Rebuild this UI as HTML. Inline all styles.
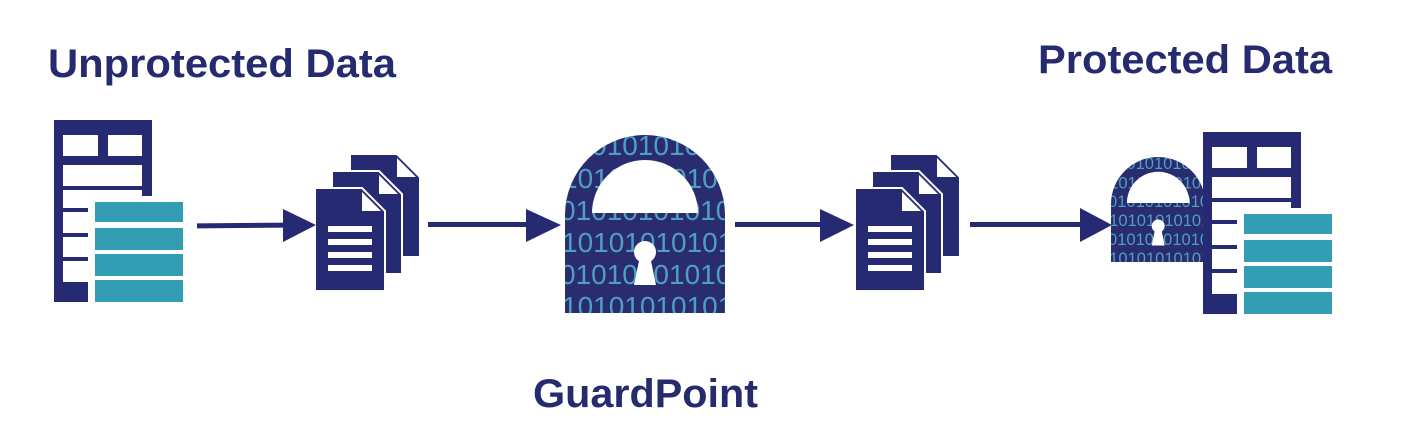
<!DOCTYPE html>
<html><head><meta charset="utf-8"><style>
html,body{margin:0;padding:0;background:#fff;}
svg{display:block;}
text.t{font-family:"Liberation Sans",sans-serif;font-weight:bold;fill:#262a6e;}
text.b{font-family:"Liberation Sans",sans-serif;fill:#4f9fc0;font-size:28px;}
</style></head><body>
<svg width="1419" height="438" viewBox="0 0 1419 438" xmlns="http://www.w3.org/2000/svg">
<defs>
  <g id="db">
    <rect x="54" y="120" width="98" height="182" fill="#252a72"/>
    <rect x="63" y="135" width="35" height="21" fill="#fff"/>
    <rect x="108" y="135" width="34" height="21" fill="#fff"/>
    <rect x="63" y="165" width="79" height="21" fill="#fff"/>
    <rect x="63" y="190" width="79" height="92" fill="#fff"/>
    <rect x="88" y="196" width="65" height="107" fill="#fff"/>
    <rect x="63" y="208" width="25" height="4" fill="#252a72"/>
    <rect x="63" y="233" width="25" height="4" fill="#252a72"/>
    <rect x="63" y="257" width="25" height="4" fill="#252a72"/>
    <rect x="95" y="202" width="88" height="20" fill="#339eb3"/>
    <rect x="95" y="228" width="88" height="22" fill="#339eb3"/>
    <rect x="95" y="254" width="88" height="22" fill="#339eb3"/>
    <rect x="95" y="280" width="88" height="22" fill="#339eb3"/>
  </g>
  <g id="page">
    <path d="M0,0 H47 L70,23 V103 H0 Z" fill="#252a72" stroke="#fff" stroke-width="2"/>
    <path d="M47,4 L47,23 L66,23 Z" fill="#fff"/>
  </g>
  <g id="docs">
    <use href="#page" x="350" y="154"/>
    <use href="#page" x="332" y="171"/>
    <use href="#page" x="315" y="188"/>
    <rect x="328" y="226" width="44" height="6" fill="#fff"/>
    <rect x="328" y="239" width="44" height="6" fill="#fff"/>
    <rect x="328" y="252" width="44" height="6" fill="#fff"/>
    <rect x="328" y="265" width="44" height="6" fill="#fff"/>
  </g>
  <clipPath id="lk"><path d="M565,215 A80,80 0 0 1 725,215 V313 H565 Z"/></clipPath>
  <g id="lock">
    <g clip-path="url(#lk)">
      <rect x="565" y="135" width="160" height="178" fill="#292c6f"/>
      <text class="b" x="560" y="155">0101010101010</text>
      <text class="b" x="562" y="188">1010101010101</text>
      <text class="b" x="560" y="220">0101010101010</text>
      <text class="b" x="562" y="252">1010101010101</text>
      <text class="b" x="560" y="284">0101010101010</text>
      <text class="b" x="562" y="316">1010101010101</text>
    </g>
    <path d="M592,213 A53,53 0 0 1 698,213 Z" fill="#fff"/>
    <circle cx="645" cy="252" r="11" fill="#fff"/>
    <path d="M640,256 L650,256 L656,285 L634,285 Z" fill="#fff"/>
  </g>
</defs>

<text class="t" x="48" y="77" font-size="40" textLength="348" lengthAdjust="spacingAndGlyphs">Unprotected Data</text>
<text class="t" x="1038" y="73" font-size="40" textLength="294" lengthAdjust="spacingAndGlyphs">Protected Data</text>
<text class="t" x="533" y="407" font-size="40" textLength="225" lengthAdjust="spacingAndGlyphs">GuardPoint</text>

<use href="#db"/>
<use href="#docs"/>
<use href="#docs" x="540"/>
<use href="#lock"/>
<g transform="translate(1111,157) scale(0.59) translate(-565,-135)"><use href="#lock"/></g>
<use href="#db" x="1149" y="12"/>

<g fill="#252a72">
  <rect x="197" y="223" width="90" height="5" transform="rotate(-0.5 240 225)"/>
  <path d="M283,209 L316,225 L283,242 Z"/>
  <rect x="428" y="222" width="100" height="5"/>
  <path d="M526,209 L561,225 L526,242 Z"/>
  <rect x="735" y="222" width="88" height="5"/>
  <path d="M820,209 L854,225 L820,242 Z"/>
  <rect x="970" y="222" width="112" height="5"/>
  <path d="M1080,208 L1112,225 L1080,242 Z"/>
</g>
</svg>
</body></html>
